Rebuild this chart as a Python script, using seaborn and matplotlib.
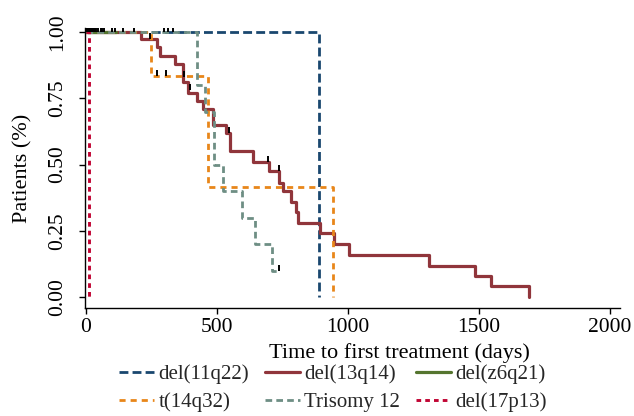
import pandas as pd
import numpy as np
import matplotlib
matplotlib.use("Agg")
import matplotlib.pyplot as plt
from matplotlib.lines import Line2D
import seaborn as sns

# Kaplan-Meier steps: time (days) -> survival after the step
groups = ["del(11q22)", "del(13q14)", "del(z6q21)", "t(14q32)", "Trisomy 12", "del(17p13)"]

t_11q22 = [0, 889]
s_11q22 = [1.0, 0.0]

t_13q14 = [0, 211, 272, 283, 341, 372, 391, 425, 448, 483, 536, 548, 636, 697, 736,
           751, 782, 801, 808, 893, 946, 1004, 1310, 1483, 1544, 1690]
s_13q14 = [1.0, 0.975, 0.945, 0.91, 0.88, 0.81, 0.77, 0.74, 0.71, 0.65, 0.62, 0.55,
           0.51, 0.475, 0.43, 0.40, 0.36, 0.32, 0.28, 0.24, 0.20, 0.16, 0.117, 0.08, 0.04, 0.0]

t_z6q21 = [0, 115]
s_z6q21 = [1.0, 1.0]

t_14q32 = [0, 249, 465, 942]
s_14q32 = [1.0, 0.833, 0.417, 0.0]

t_tri12 = [0, 425, 456, 490, 521, 594, 644, 709, 736]
s_tri12 = [1.0, 0.80, 0.70, 0.50, 0.40, 0.30, 0.20, 0.10, 0.10]

t_17p13 = [0, 10]
s_17p13 = [1.0, 0.0]

# censored observations (time, survival level)
cens_t = [2, 5, 8, 11, 14, 17, 20, 24, 28, 32, 36, 40, 46, 57, 61, 69, 100, 111, 142, 184,
          299, 314, 333,
          245, 375, 398, 544, 693, 736,
          272, 307,
          738]
cens_s = [1.0] * 23 + [0.975, 0.83, 0.78, 0.62, 0.51, 0.475, 0.833, 0.833, 0.10]

colors = ["#1a476f", "#90353b", "#55752f", "#e8861a", "#6e8e84", "#c10534"]
styles = [(0, (3.2, 1.5)), "-", "-", (0, (2.2, 1.8)), (0, (2.4, 1.5)), (0, (1.6, 1.4))]
widths = [2.0, 2.3, 2.3, 2.0, 2.0, 2.1]

curves = [(t_11q22, s_11q22), (t_13q14, s_13q14), (t_z6q21, s_z6q21),
          (t_14q32, s_14q32), (t_tri12, s_tri12), (t_17p13, s_17p13)]

sns.set_theme(style="white")
plt.rcParams["font.family"] = ["Liberation Serif", "DejaVu Serif"]

fig = plt.figure(figsize=(6.34, 4.16), dpi=100)
ax = fig.add_axes([0.134, 0.2596, 0.844, 0.673])

for g, (t, s), c, ls, lw in zip(groups, curves, colors, styles, widths):
    d = pd.DataFrame({"t": t, "s": s})
    sns.lineplot(data=d, x="t", y="s", ax=ax, color=c, linestyle=ls, lw=lw,
                 drawstyle="steps-post", estimator=None, sort=False)

ax.vlines(cens_t, np.array(cens_s), np.array(cens_s) + 0.022, color="black", lw=1.4, zorder=5)

ax.set_xlim(-4, 2038)
ax.set_ylim(-0.0415, 1.015)
ax.set_xticks([0, 500, 1000, 1500, 2000])
ax.set_yticks([0, 0.25, 0.5, 0.75, 1.0])
ax.set_yticklabels(["0.00", "0.25", "0.50", "0.75", "1.00"], rotation=90, va="center")
ax.tick_params(axis="both", direction="out", length=4, width=1, color="black",
               labelsize=15.5, labelcolor="black", bottom=True, left=True)
ax.tick_params(axis="y", pad=9)
ax.tick_params(axis="x", pad=3)
for side in ["top", "right"]:
    ax.spines[side].set_visible(False)
for side in ["left", "bottom"]:
    ax.spines[side].set_color("black")
    ax.spines[side].set_linewidth(1)

ax.set_xlabel("Time to first treatment (days)", fontsize=16, color="black")
ax.set_ylabel("Patients (%)", fontsize=16, color="black")
ax.xaxis.set_label_coords(0.587, -0.125)
ax.yaxis.set_label_coords(-0.098, 0.5)

handles = [Line2D([], [], color=c, linestyle=ls, lw=lw) for c, ls, lw in zip(colors, styles, widths)]
order = [0, 3, 1, 4, 2, 5]
fig.legend([handles[i] for i in order], [groups[i] for i in order], ncol=3,
           loc="center", bbox_to_anchor=(0.525, 0.066), frameon=False, fontsize=15,
           handlelength=1.7, handletextpad=0.2, columnspacing=0.75, labelspacing=0.4,
           borderpad=0.1)

fig.savefig("out.png", dpi=100)
